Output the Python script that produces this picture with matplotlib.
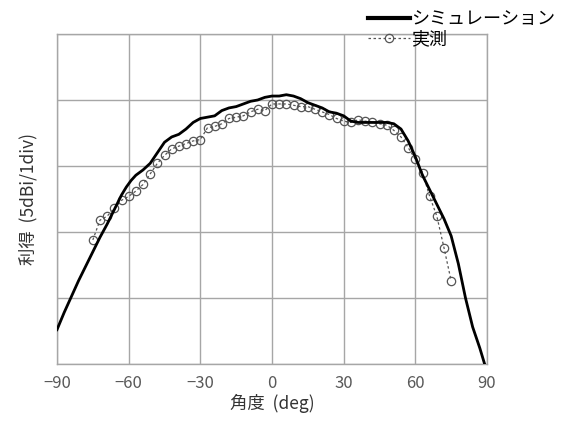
import matplotlib.pyplot as plt

plt.rcParams['font.family'] = ['Noto Sans CJK JP', 'DejaVu Sans']

# simulation (dB above the bottom grid line)
sim_deg = [-90, -87, -84, -81, -78, -75, -72, -69, -66, -63, -61, -59, -57, -54, -51,
           -48, -45, -42, -39, -36, -33, -30, -27, -24, -21, -18, -15, -12, -9,
           -6, -3, 0, 3, 6, 9, 12, 15, 18, 21, 24, 27, 30, 33, 36, 39, 42, 45,
           48, 51, 54, 57, 60, 63, 66, 69, 72, 75, 78, 81, 84, 87, 89]
sim_val = [2.6, 3.9, 5.1, 6.3, 7.4, 8.5, 9.6, 10.6, 11.7, 12.8, 13.4, 13.9, 14.3, 14.7, 15.2,
           16.0, 16.8, 17.2, 17.4, 17.8, 18.3, 18.6, 18.7, 18.8, 19.2, 19.4, 19.5, 19.7, 19.9,
           20.0, 20.2, 20.3, 20.3, 20.4, 20.3, 20.1, 19.8, 19.6, 19.4, 19.1, 19.0, 18.8, 18.4,
           18.3, 18.3, 18.3, 18.3, 18.3, 18.2, 17.8, 16.9, 15.7, 14.3, 13.2, 12.1, 11.0, 9.7,
           7.6, 5.0, 2.8, 1.2, 0.0]

# measurement
meas_deg = list(range(-75, 76, 3))
meas_val = [9.4, 10.9, 11.2, 11.8, 12.4, 12.7, 13.1, 13.6, 14.4, 15.2, 15.8, 16.3, 16.5,
            16.7, 16.9, 17.0, 17.9, 18.0, 18.2, 18.6, 18.7, 18.8, 19.1, 19.3, 19.2, 19.7,
            19.7, 19.7, 19.6, 19.5, 19.5, 19.3, 19.1, 18.9, 18.6, 18.4, 18.3, 18.5, 18.4,
            18.3, 18.2, 18.1, 17.7, 17.2, 16.4, 15.5, 14.5, 12.7, 11.2, 8.8, 6.3]

xticks = [-90, -60, -30, 0, 30, 60, 90]

fig = plt.figure(figsize=(5.63, 4.23), dpi=100)
ax = fig.add_axes([57/563, 59/423, 430/563, 330/423])

ax.plot(sim_deg, sim_val, color='black', linewidth=2.0, label='シミュレーション', zorder=3)
ax.plot(meas_deg, meas_val, color='#555555', linewidth=0.9, linestyle=(0, (2, 2)),
        marker='o', markersize=6, markerfacecolor='none', markeredgecolor='#555555',
        markeredgewidth=0.9, label='実測', zorder=2)

ax.set_xlim(-90, 90)
ax.set_ylim(0, 25)
ax.set_xticks(xticks)
ax.set_yticks([0, 5, 10, 15, 20, 25])
ax.set_yticklabels([])
ax.grid(True, color='#a6a6a6', linewidth=1.0)
ax.tick_params(length=0, labelsize=12, labelcolor='#595959', pad=8)
for s in ax.spines.values():
    s.set_color('#a6a6a6')
    s.set_linewidth(1.0)

ax.set_xlabel('角度  (deg)', fontsize=12.5, color='#333333', labelpad=1)
ax.set_ylabel('利得  (5dBi/1div)', fontsize=12.5, color='#333333', labelpad=6)

leg = fig.legend(loc='upper left', bbox_to_anchor=(359/563, 1 - 1/423), frameon=False,
                 fontsize=13, handlelength=2.3, handletextpad=0.1, labelspacing=0.15,
                 borderpad=0)
leg.get_lines()[0].set_linewidth(3.0)

fig.savefig('out.png', dpi=100)
